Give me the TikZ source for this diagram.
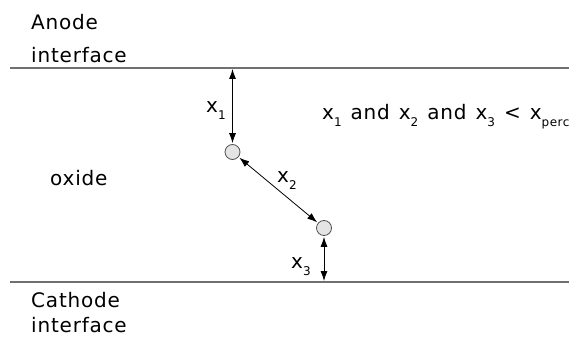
\documentclass[tikz,border=0pt]{standalone}
\usepackage{fontspec}
\setmainfont{DejaVu Sans}[LetterSpace=4]
\usetikzlibrary{arrows.meta}
\newcommand{\sbx}[1]{\raisebox{-7pt}{\fontsize{12}{12}\selectfont #1}}
\definecolor{linegray}{HTML}{707070}
\definecolor{dotfill}{HTML}{E4E4E4}
\definecolor{dotdraw}{HTML}{505050}
\begin{document}
\begin{tikzpicture}[x=1pt,y=-1pt,
  lbl/.style={inner sep=0pt, anchor=base west, font=\fontsize{20}{24}\selectfont},
  iface/.style={draw=linegray, line width=1.3pt},
  particle/.style={circle, draw=dotdraw, fill=dotfill, line width=0.8pt, minimum size=15pt, inner sep=0pt},
  dimarr/.style={{Latex[length=10pt,width=7pt]}-{Latex[length=10pt,width=7pt]}, line width=0.8pt, shorten <=1pt, shorten >=1pt}]
\useasboundingbox (0,0) rectangle (569,339);
% interfaces
\coordinate (tl) at (10,68);
\coordinate (tr) at (569,68);
\coordinate (bl) at (10,282);
\coordinate (br) at (569,282);
\draw[iface] (tl) -- (tr);
\draw[iface] (bl) -- (br);
% labels
\node[lbl] (an1) at (31,30) {Anode};
\node[lbl] (an2) at (31,63) {interface};
\node[lbl] (ca1) at (31,307) {Cathode};
\node[lbl] (ca2) at (31,332) {interface};
\node[lbl] (ox) at (50,185) {oxide};
% particles
\node[particle] (p1) at (232.5,152) {};
\node[particle] (p2) at (324,228) {};
\coordinate (a1) at (p1 |- tl);
\coordinate (a3) at (p2 |- bl);
\draw[dimarr] (a1) -- (p1);
\draw[dimarr] (p1) -- (p2);
\draw[dimarr] (p2) -- (a3);
\node[lbl] (x1) at (206,113) {x\sbx{1}};
\node[lbl] (x2) at (277,182) {x\sbx{2}};
\node[lbl] (x3) at (291,268) {x\sbx{3}};
\node[lbl] (cond) at (322,120) {\spaceskip=9pt x\sbx{1} and x\sbx{2} and x\sbx{3} {<} x\sbx{perc}};
\end{tikzpicture}
\end{document}
